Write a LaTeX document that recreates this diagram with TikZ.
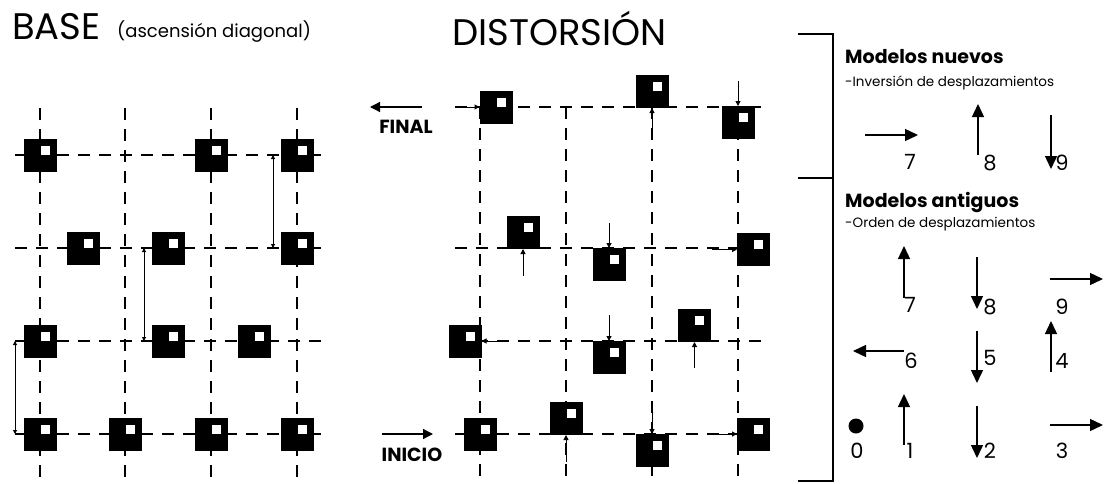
\documentclass[tikz,border=0pt]{standalone}
\usepackage{fontspec}
\setmainfont{Poppins}
\usetikzlibrary{arrows.meta}
\begin{document}
\begin{tikzpicture}[x=1pt,y=-1pt,
  sq/.style={fill=black, minimum size=33pt, inner sep=0pt, outer sep=0pt,
    path picture={\fill[white] ([shift={(0.5pt,0.5pt)}]path picture bounding box.center) rectangle ++(9pt,9pt);}},
  gridline/.style={line width=1.5pt, dash pattern=on 12pt off 9pt},
  sarr/.style={line width=1pt, -{Triangle[length=5pt,width=5pt]}},
  darr/.style={line width=1pt, {Triangle[length=4pt,width=4pt]}-{Triangle[length=4pt,width=4pt]}},
  marr/.style={line width=1.3pt, -{Triangle[length=10pt,width=10pt]}},
  barr/.style={line width=1.4pt, -{Triangle[length=13pt,width=12pt]}},
  lab/.style={font=\fontsize{21}{23}\selectfont, inner sep=0pt},
  tag/.style={font=\bfseries\fontsize{19}{21}\selectfont, inner sep=0pt},
  head/.style={font=\bfseries\fontsize{19}{21}\selectfont, inner sep=0pt, anchor=base west},
  sub/.style={font=\fontsize{13.5}{15}\selectfont, inner sep=0pt, anchor=base west},
  title/.style={font=\fontsize{37}{40}\selectfont, inner sep=0pt, anchor=base west},
  brk/.style={line width=1.3pt}
]
\useasboundingbox (0,0) rectangle (1104,483);

% ---------- titles
\node[title] (tbase) at (12,39) {BASE};
\node[font=\fontsize{18}{20}\selectfont, inner sep=0pt, anchor=base west] (tasc) at (117,37) {(ascensión diagonal)};
\node[title] (tdist) at (452,45) {DISTORSIÓN};

% ---------- BASE grid
\foreach \y in {155,248,341,434} \draw[gridline] (15,\y) -- (323,\y);
\foreach \x in {40,125,211,297} \draw[gridline] (\x,108) -- (\x,483);

\node[sq] (b11) at (40,155) {};
\node[sq] (b13) at (211,155) {};
\node[sq] (b14) at (297,155) {};
\node[sq] (b21) at (83,248) {};
\node[sq] (b22) at (168,248) {};
\node[sq] (b24) at (297,248) {};
\node[sq] (b31) at (40,341) {};
\node[sq] (b32) at (168,341) {};
\node[sq] (b33) at (254,341) {};
\node[sq] (b41) at (40,434) {};
\node[sq] (b42) at (125,434) {};
\node[sq] (b43) at (211,434) {};
\node[sq] (b44) at (297,434) {};

\draw[darr] ([xshift=-25pt]b31.center) -- ([xshift=-25pt]b41.center);
\draw[darr] ([xshift=-24pt]b22.center) -- ([xshift=-24pt]b32.center);
\draw[darr] ([xshift=-24pt]b14.center) -- ([xshift=-24pt]b24.center);

% ---------- DISTORSION grid
\foreach \y in {107,248,341,434} \draw[gridline] (455,\y) -- (764,\y);
\foreach \x in {480,566,652,738} \draw[gridline] (\x,107) -- (\x,483);

\node[sq] (d11) at (496,107) {};
\node[sq] (d12) at (652,91.5) {};
\node[sq] (d13) at (738,122.5) {};
\node[sq] (d21) at (523,232.5) {};
\node[sq] (d22) at (609,264.5) {};
\node[sq] (d23) at (753.5,249.5) {};
\node[sq] (d31) at (465,341) {};
\node[sq] (d32) at (609,357.5) {};
\node[sq] (d33) at (694.5,325.5) {};
\node[sq] (d41) at (480.5,434) {};
\node[sq] (d42) at (566,418.5) {};
\node[sq] (d43) at (652,450.5) {};
\node[sq] (d44) at (753.5,434) {};

\coordinate (e11) at (455,107);
\coordinate (e12) at (652,140);
\coordinate (e13) at (738,81);
\coordinate (e21) at (523,276);
\coordinate (e22) at (609,223);
\coordinate (e23) at (712,249.5);
\coordinate (e31) at (507,341);
\coordinate (e32) at (609,315);
\coordinate (e33) at (694.5,368);
\coordinate (e42) at (566,462);
\coordinate (e43) at (652,403);
\coordinate (e44) at (712,434);

\draw[sarr] (e11) -- (d11.west);
\draw[sarr] (e12) -- (d12.south);
\draw[sarr] (e13) -- (d13.north);
\draw[sarr] (e21) -- (d21.south);
\draw[sarr] (e22) -- (d22.north);
\draw[sarr] (e23) -- (d23.west);
\draw[sarr] (e31) -- (d31.east);
\draw[sarr] (e32) -- (d32.north);
\draw[sarr] (e33) -- (d33.south);
\draw[sarr] (e42) -- (d42.south);
\draw[sarr] (e43) -- (d43.north);
\draw[sarr] (e44) -- (d44.west);

% FINAL / INICIO
\coordinate (f1) at (422,107);
\coordinate (f2) at (370,107);
\draw[marr] (f1) -- (f2);
\node[tag] (final) at (406,127) {FINAL};
\coordinate (i1) at (382,434);
\coordinate (i2) at (433,434);
\draw[marr] (i1) -- (i2);
\node[tag] (inicio) at (412,455) {INICIO};

% ---------- right panel
\coordinate (k1) at (798,34);
\coordinate (k2) at (833,34);
\coordinate (k3) at (833,481);
\coordinate (k4) at (798,481);
\coordinate (k5) at (798,178);
\coordinate (k6) at (833,178);
\draw[brk] (k1) -- (k2) -- (k3) -- (k4);
\draw[brk] (k5) -- (k6);

\node[head] (hnew) at (845,63) {Modelos nuevos};
\node[sub] (snew) at (845,86) {-Inversión de desplazamientos};
\node[head] (hold) at (845,207) {Modelos antiguos};
\node[sub] (sold) at (845,227) {-Orden de desplazamientos};

% nuevos
\coordinate (n7a) at (865,135); \coordinate (n7b) at (918,135);
\coordinate (n8a) at (978,155); \coordinate (n8b) at (978,104);
\coordinate (n9a) at (1051,115); \coordinate (n9b) at (1051,169);
\draw[barr] (n7a) -- (n7b);
\draw[barr] (n8a) -- (n8b);
\draw[barr] (n9a) -- (n9b);
\node[lab] (ln7) at (910,162) {7};
\node[lab] (ln8) at (990,163) {8};
\node[lab] (ln9) at (1062,163) {9};

% antiguos
\coordinate (o7a) at (904,298); \coordinate (o7b) at (904,246);
\coordinate (o8a) at (977,257); \coordinate (o8b) at (977,309);
\coordinate (o9a) at (1050,279); \coordinate (o9b) at (1103,279);
\coordinate (o6a) at (904,351); \coordinate (o6b) at (853,351);
\coordinate (o5a) at (977,331); \coordinate (o5b) at (977,383);
\coordinate (o4a) at (1051,372); \coordinate (o4b) at (1051,321);
\coordinate (o1a) at (904,445); \coordinate (o1b) at (904,394);
\coordinate (o2a) at (977,406); \coordinate (o2b) at (977,458);
\coordinate (o3a) at (1050,425); \coordinate (o3b) at (1103,425);
\draw[barr] (o7a) -- (o7b);
\draw[barr] (o8a) -- (o8b);
\draw[barr] (o9a) -- (o9b);
\draw[barr] (o6a) -- (o6b);
\draw[barr] (o5a) -- (o5b);
\draw[barr] (o4a) -- (o4b);
\draw[barr] (o1a) -- (o1b);
\draw[barr] (o2a) -- (o2b);
\draw[barr] (o3a) -- (o3b);
\node[circle, fill=black, minimum size=15pt, inner sep=0pt] (dot0) at (856,426) {};
\node[lab] (l7) at (910,305) {7};
\node[lab] (l8) at (990,307) {8};
\node[lab] (l9) at (1062,307) {9};
\node[lab] (l6) at (911,361) {6};
\node[lab] (l5) at (990,358) {5};
\node[lab] (l4) at (1062,361) {4};
\node[lab] (l0) at (857,451) {0};
\node[lab] (l1) at (910,451) {1};
\node[lab] (l2) at (990,451) {2};
\node[lab] (l3) at (1062,451) {3};
\end{tikzpicture}
\end{document}
